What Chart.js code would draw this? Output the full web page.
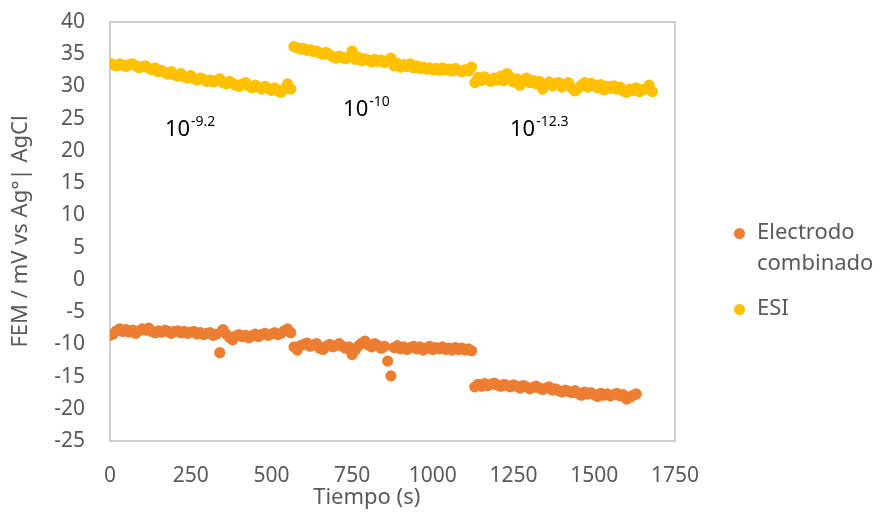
<!DOCTYPE html>
<html>
<head>
<meta charset="utf-8">
<script src="https://cdn.jsdelivr.net/npm/chart.js@4/dist/chart.umd.min.js"></script>
<style>
  html, body { margin: 0; padding: 0; background: #fff; }
  #wrap { position: relative; width: 894px; height: 515px; }
  #leyenda { position: absolute; left: 733px; top: 215px; font-family: 'Noto Sans', sans-serif; font-size: 22px; color: #595959; line-height: 31px; }
  #leyenda .item { position: relative; padding-left: 24px; margin-bottom: 14px; }
  #leyenda .dot { position: absolute; left: 1px; top: 13px; width: 11px; height: 11px; border-radius: 50%; }
</style>
</head>
<body>
<div id="wrap">
  <canvas id="fem" width="894" height="515"></canvas>
  <div id="leyenda">
    <div class="item"><span class="dot" style="background:#ED7D31"></span>Electrodo<br>combinado</div>
    <div class="item"><span class="dot" style="background:#FFC000"></span>ESI</div>
  </div>
</div>
<script>
// tiempo (s), uno por lectura
const tiempo = [
  0, 10, 20, 30, 40, 50, 60, 70, 80, 90, 100, 110, 120, 130, 140, 150, 160, 170, 180, 190,
  200, 210, 220, 230, 240, 250, 260, 270, 280, 290, 300, 310, 320, 330, 340, 350, 360, 370, 380, 390,
  400, 410, 420, 430, 440, 450, 460, 470, 480, 490, 500, 510, 520, 530, 540, 550, 560,
  570, 580, 590, 600, 610, 620, 630, 640, 650, 660, 670, 680, 690, 700, 710, 720, 730, 740, 750, 760,
  770, 780, 790, 800, 810, 820, 830, 840, 850, 860, 870, 880, 890, 900, 910, 920, 930, 940, 950, 960,
  970, 980, 990, 1000, 1010, 1020, 1030, 1040, 1050, 1060, 1070, 1080, 1090, 1100, 1110, 1120,
  1130, 1140, 1150, 1160, 1170, 1180, 1190, 1200, 1210, 1220, 1230, 1240, 1250, 1260, 1270, 1280,
  1290, 1300, 1310, 1320, 1330, 1340, 1350, 1360, 1370, 1380, 1390, 1400, 1410, 1420, 1430, 1440,
  1450, 1460, 1470, 1480, 1490, 1500, 1510, 1520, 1530, 1540, 1550, 1560, 1570, 1580, 1590, 1600,
  1610, 1620, 1630, 1640, 1650, 1660, 1670, 1680
];

// FEM (mV) del ESI
const esi = [
  33.6, 33.4, 33.2, 33.5, 33.3, 33.1, 33.4, 33.5, 33.2, 32.9, 33.1, 33.2, 32.8, 32.6, 32.9, 32.3, 32.5, 32.2, 31.9, 32.3,
  31.8, 31.6, 32.0, 31.5, 31.3, 31.7, 31.2, 31.0, 31.3, 31.1, 30.8, 31.0, 30.7, 30.9, 31.2, 30.6, 30.4, 30.8, 30.5, 30.2,
  30.0, 30.4, 30.6, 30.1, 29.8, 30.2, 29.9, 29.6, 30.0, 29.7, 29.4, 29.8, 29.3, 29.1, 29.6, 30.4, 29.6,
  36.2, 36.0, 35.8, 35.9, 35.6, 35.7, 35.4, 35.5, 35.2, 35.0, 35.3, 34.9, 34.6, 34.4, 34.7, 34.5, 34.3, 34.6, 35.5, 34.2,
  34.5, 34.0, 34.3, 34.1, 33.8, 34.2, 33.9, 34.1, 33.7, 34.0, 34.4, 33.2, 33.6, 33.0, 33.4, 33.1, 33.5, 32.9, 33.2, 32.8,
  33.0, 32.7, 32.9, 32.6, 32.8, 32.5, 32.9, 32.6, 32.7, 32.4, 32.8, 32.5, 32.3, 32.6, 32.4, 33.0,
  30.6, 31.4, 30.9, 31.5, 31.1, 30.8, 31.3, 31.0, 31.6, 30.9, 32.0, 31.4, 30.7, 31.2, 30.2, 30.9,
  31.3, 30.6, 30.9, 30.4, 30.8, 29.6, 30.3, 30.7, 30.1, 30.5, 30.6, 29.9, 30.3, 30.6, 29.8, 29.3,
  29.7, 30.2, 30.6, 29.9, 30.5, 30.2, 29.8, 30.3, 29.5, 30.0, 29.7, 30.1, 29.6, 29.9, 29.3, 29.1,
  29.6, 29.4, 29.8, 29.2, 29.5, 29.7, 30.2, 29.2
];

// FEM (mV) del electrodo combinado
const electrodo = [
  -8.6, -8.4, -7.9, -7.6, -8.0, -7.7, -8.1, -7.8, -8.3, -7.9, -7.6, -7.8, -7.5, -8.0, -8.2, -7.9, -8.1, -7.8, -8.0, -8.3,
  -8.0, -7.9, -8.2, -8.0, -8.3, -8.1, -8.0, -8.4, -8.2, -8.5, -8.3, -8.2, -8.6, -8.4, -11.3, -7.7, -8.4, -8.9, -9.3, -8.7,
  -8.5, -8.8, -8.6, -9.0, -8.7, -8.4, -8.8, -8.5, -8.3, -8.6, -8.4, -8.2, -8.5, -8.3, -7.9, -7.6, -8.2,
  -10.4, -10.9, -10.2, -10.0, -9.8, -10.3, -10.1, -9.9, -10.6, -10.8, -10.3, -10.0, -10.4, -10.2, -9.9, -10.3, -10.6, -10.4, -11.6, -10.9,
  -10.2, -9.8, -9.5, -10.1, -10.4, -9.9, -10.2, -10.6, -10.3, -12.6, -14.9, -10.5, -10.2, -10.7, -10.4, -10.8, -10.5, -10.3, -10.7, -10.4,
  -10.9, -10.6, -10.3, -10.8, -10.5, -10.7, -10.4, -10.8, -10.6, -10.9, -10.5, -10.8, -10.6, -10.9, -10.7, -11.0,
  -16.6, -16.2, -16.5, -16.1, -16.4, -16.2, -16.0, -16.3, -16.5, -16.2, -16.4, -16.6, -16.3, -16.5, -16.8, -16.4,
  -16.6, -16.9, -16.7, -16.5, -16.8, -17.0, -16.8, -16.6, -17.1, -16.9, -17.2, -17.4, -17.1, -17.3, -17.5, -17.2,
  -17.6, -17.9, -17.4, -17.7, -17.5, -17.8, -18.1, -17.6, -17.9, -17.7, -18.0, -17.8, -17.6, -18.0, -17.8, -18.5,
  -18.2, -17.9, -17.7, null, null, null, null, null
];

// exponentes de la actividad de cada etapa
const etiquetas = ['-9.2', '-10', '-12.3'];

const gris = '#595959';
const fuente = 'Noto Sans';

function puntos(valores) {
  const out = [];
  tiempo.forEach((t, i) => {
    if (valores[i] !== null) out.push({ x: t, y: valores[i] });
  });
  return out;
}

// dónde va cada rótulo 10^x (en unidades de datos)
const posRotulos = [
  { x: 170, y: 22.3 },
  { x: 722, y: 25.4 },
  { x: 1239, y: 22.3 }
];

const marco = {
  id: 'marco',
  beforeDatasetsDraw(chart) {
    const { ctx, chartArea: a } = chart;
    ctx.save();
    ctx.strokeStyle = '#BFBFBF';
    ctx.lineWidth = 1.5;
    ctx.strokeRect(a.left, a.top, a.right - a.left, a.bottom - a.top);
    ctx.restore();
  },
  afterDatasetsDraw(chart) {
    const { ctx, scales } = chart;
    ctx.save();
    ctx.fillStyle = '#000';
    ctx.textBaseline = 'alphabetic';
    ctx.textAlign = 'left';
    etiquetas.forEach((exp, i) => {
      const px = scales.x.getPixelForValue(posRotulos[i].x);
      const py = scales.y.getPixelForValue(posRotulos[i].y);
      ctx.font = '22px "' + fuente + '"';
      ctx.fillText('10', px, py);
      const w = ctx.measureText('10').width;
      ctx.font = '14px "' + fuente + '"';
      ctx.fillText(exp, px + w + 1, py - 10);
    });
    ctx.restore();
  }
};

new Chart(document.getElementById('fem'), {
  type: 'scatter',
  data: {
    datasets: [
      { label: 'Electrodo combinado', data: puntos(electrodo), backgroundColor: '#ED7D31', borderWidth: 0, pointRadius: 5.6, pointHoverRadius: 5.6 },
      { label: 'ESI', data: puntos(esi), backgroundColor: '#FFC000', borderWidth: 0, pointRadius: 5.6, pointHoverRadius: 5.6 }
    ]
  },
  options: {
    responsive: false,
    animation: false,
    layout: { padding: { top: 22, right: 219, bottom: 0, left: 0 } },
    plugins: { legend: { display: false }, tooltip: { enabled: false } },
    scales: {
      x: {
        min: 0, max: 1750,
        grid: { display: false, drawTicks: false },
        border: { display: false },
        ticks: { stepSize: 250, padding: 22, color: gris, font: { family: fuente, size: 21 }, maxRotation: 0, callback: (v) => String(v) },
        title: { display: true, text: 'Tiempo (s)\u00A0\u00A0\u00A0\u00A0\u00A0\u00A0\u00A0\u00A0\u00A0', color: gris, font: { family: fuente, size: 22 }, padding: { top: 0, bottom: 4 } },
        afterFit: (s) => { s.height = 74; }
      },
      y: {
        min: -25, max: 40,
        grid: { display: false, drawTicks: false },
        border: { display: false },
        ticks: { stepSize: 5, padding: 25, color: gris, font: { family: fuente, size: 21 } },
        title: { display: true, text: 'FEM / mV vs Ag°| AgCl', color: gris, font: { family: fuente, size: 22 }, padding: { top: 8, bottom: 0 } },
        afterFit: (s) => { s.width = 110; s.paddingTop = 0; s.paddingBottom = 0; }
      }
    }
  },
  plugins: [marco]
});
</script>
</body>
</html>
